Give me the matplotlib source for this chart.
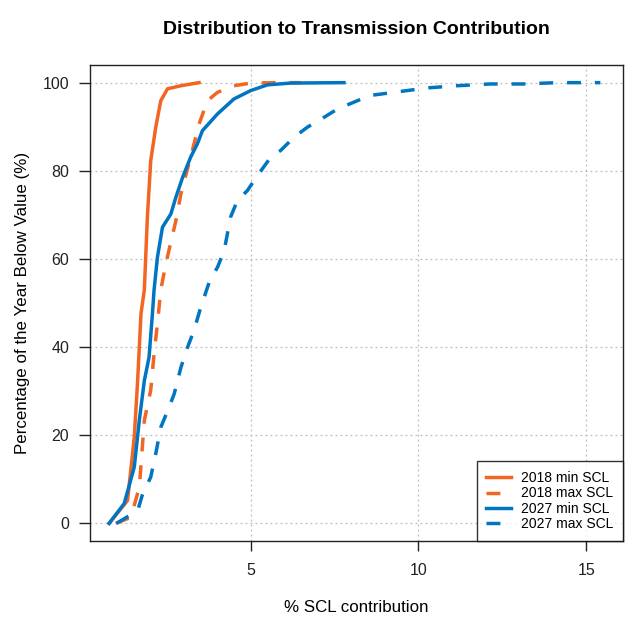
import numpy as np
import matplotlib
matplotlib.use("Agg")
import matplotlib.pyplot as plt

plt.rcParams['font.family'] = ['Liberation Sans', 'DejaVu Sans']

# curves (x = % SCL contribution, y = % of year below)
x_2018_min = [0.78, 1.33, 1.53, 1.63, 1.73, 1.83, 1.92, 2.02, 2.17, 2.32, 2.52, 2.92, 3.46]
y_2018_min = [0, 5.2, 19.6, 32.4, 47.6, 53.0, 69.5, 82.3, 89.9, 95.9, 98.6, 99.3, 100]

x_2018_max = [0.98, 1.43, 1.68, 1.83, 2.02, 2.12, 2.22, 2.32, 2.47, 2.77, 2.92,
              3.21, 3.46, 3.71, 4.01, 4.50, 5.0, 5.8, 6.5]
y_2018_max = [0, 1.4, 8.2, 23.4, 30.2, 38.5, 45.3, 53.0, 58.9, 68.7, 74.8,
              83.1, 90.6, 95.9, 97.8, 99.3, 99.9, 100, 100]

x_2027_min = [0.78, 1.23, 1.53, 1.68, 1.83, 1.97, 2.07, 2.12, 2.22, 2.37, 2.62,
              2.77, 2.97, 3.21, 3.41, 3.56, 4.01, 4.50, 5.0, 5.5, 6.19, 7.78]
y_2027_min = [0, 4.5, 12.8, 23.4, 32.4, 37.7, 47.5, 53.0, 60.4, 67.2, 70.2,
              74.0, 78.5, 83.1, 86.1, 89.1, 92.9, 96.3, 98.2, 99.5, 99.9, 100]

x_2027_max = [1.0, 1.63, 1.78, 2.02, 2.17, 2.32, 2.57, 2.72, 2.92, 3.12, 3.31,
              3.51, 3.78, 4.01, 4.21, 4.40, 4.60, 4.90, 5.20, 5.60, 5.89, 6.29,
              6.69, 7.18, 7.58, 8.18, 8.57, 9.27, 10.26, 11.15, 12.14, 13.13, 14.13, 15.42]
y_2027_max = [0, 2.9, 6.7, 10.5, 15.8, 21.8, 26.4, 29.4, 35.4, 40.0, 43.8,
              49.0, 55.1, 58.1, 61.9, 69.5, 73.2, 75.5, 78.9, 83.1, 84.6, 87.6,
              89.9, 92.1, 94.0, 95.9, 97.1, 97.8, 98.8, 99.3, 99.7, 99.7, 100, 100]

x_ticks = [5, 10, 15]
y_ticks = [0, 20, 40, 60, 80, 100]

orange = "#F26522"
blue = "#0075C2"

fig = plt.figure(figsize=(6.25, 6.18), dpi=100)
ax = fig.add_axes([0.144, 0.1246, 0.853, 0.7702])

lw = 2.5
ax.plot(x_2018_min, y_2018_min, color=orange, lw=lw, label="2018 min SCL")
ax.plot(x_2018_max, y_2018_max, color=orange, lw=lw, dashes=(4, 4), label="2018 max SCL")
ax.plot(x_2027_min, y_2027_min, color=blue, lw=lw, label="2027 min SCL")
ax.plot(x_2027_max, y_2027_max, color=blue, lw=lw, dashes=(4, 4), label="2027 max SCL")

ax.set_xlim(0.21, 16.1)
ax.set_ylim(-4, 104)
ax.set_xticks(x_ticks)
ax.set_yticks(y_ticks)
ax.grid(True, color="#BBBBBB", linestyle=(0, (1.5, 2.5)), linewidth=0.9)
ax.set_axisbelow(True)

ax.tick_params(axis='x', length=7, width=1, pad=9, labelsize=11.5, colors='#222222')
ax.tick_params(axis='y', length=8, width=1, pad=7, labelsize=11.5, colors='#222222')
for s in ax.spines.values():
    s.set_color('#222222')
    s.set_linewidth(1)

ax.set_title("Distribution to Transmission Contribution", fontsize=14,
             fontweight='bold', pad=22)
ax.set_xlabel("% SCL contribution", fontsize=12.2, labelpad=16)
ax.set_ylabel("Percentage of the Year Below Value (%)", fontsize=12.2, labelpad=9)

leg = ax.legend(loc='lower right', fontsize=10, frameon=True, fancybox=False,
                borderaxespad=0, handlelength=1.8, labelspacing=0.1,
                borderpad=0.7, handletextpad=0.7)
leg.get_frame().set_edgecolor('black')
leg.get_frame().set_linewidth(1)

fig.savefig("out.png", dpi=100)
